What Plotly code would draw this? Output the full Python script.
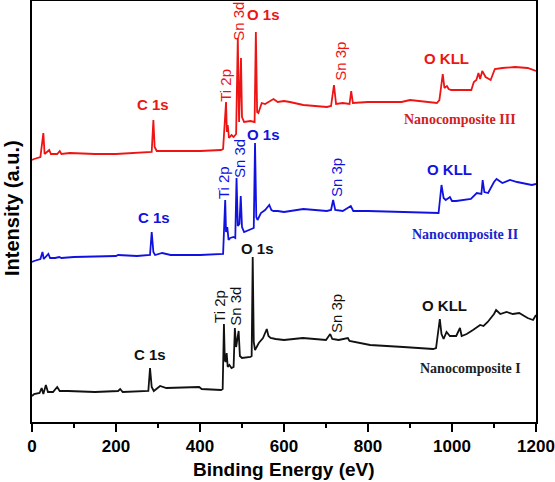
import plotly.graph_objects as go

# ---------------- data (binding energy in eV, intensity in arbitrary offset units) -------------
energy_I = [0, 5, 18, 23, 27, 33, 38, 50, 60, 66,
            86, 150, 205, 210, 216, 260, 277, 281, 285, 290,
            305, 320, 398, 404, 450, 454, 457, 459, 461, 463.5,
            466, 470, 475, 480, 483, 486, 492, 495, 500, 520,
            523, 525.5, 528, 531, 540, 550, 559, 563, 568, 580,
            600, 645, 700, 710, 715, 730, 752, 756, 805, 884,
            955, 962, 971, 975, 980, 987, 995, 1010, 1019, 1023,
            1035, 1050, 1067, 1075, 1085, 1100, 1105, 1115, 1130, 1145,
            1160, 1180, 1193, 1200]
intensity_I = [26, 28, 29, 34, 28, 37, 30, 30, 35, 31,
               31, 30, 31, 33, 30, 31, 31, 54, 35, 31,
               36, 34, 35, 33, 32, 33, 98, 62, 60, 69,
               55, 57, 54, 55, 94, 75, 91, 66, 64, 65,
               66, 165, 80, 72, 79, 84, 93, 86, 84, 83,
               82, 84, 82, 88, 83, 82, 84, 81, 77, 75,
               73, 74, 103, 88, 83, 90, 86, 86, 94, 86,
               88, 92, 97, 96, 100, 108, 112, 108, 110, 108,
               109, 104, 102, 107]

energy_II = [0, 5, 20, 25, 28, 39, 43, 55, 65, 70,
             100, 200, 205, 250, 281, 285, 289, 293, 310, 330,
             400, 450, 455, 460, 462, 465, 468, 472, 480, 484,
             487, 490, 494, 497, 500, 505, 520, 528, 531, 534,
             537, 545, 555, 565, 570, 575, 585, 600, 646, 702,
             712, 717, 722, 740, 759, 765, 800, 870, 955, 968,
             975, 980, 985, 995, 1000, 1010, 1045, 1059, 1070, 1073,
             1077, 1086, 1100, 1106, 1120, 1138, 1155, 1170, 1190, 1200]
intensity_II = [160, 161, 163, 170, 163, 168, 164, 164, 165, 164,
                165, 166, 167, 166, 167, 190, 170, 167, 169, 167,
                167, 168, 168, 222, 190, 195, 182, 184, 185, 184,
                244, 196, 198, 226, 195, 190, 193, 194, 279, 205,
                202, 209, 212, 217, 212, 211, 211, 210, 213, 211,
                212, 222, 212, 211, 216, 211, 211, 210, 209, 209,
                237, 224, 222, 225, 221, 221, 223, 229, 228, 242,
                230, 229, 240, 243, 239, 242, 240, 239, 237, 238]

energy_III = [0, 5, 20, 27, 30, 41, 45, 60, 66, 70,
              90, 150, 200, 250, 285, 289, 292, 297, 350, 400,
              450, 455, 462, 464, 466, 469, 475, 480, 486, 490,
              493, 497.6, 500, 505, 520, 530, 533, 536, 539, 547,
              555, 563, 570, 575, 585, 600, 614, 646, 702, 712,
              719, 724, 740, 756, 760, 764, 800, 880, 900, 964,
              970, 978, 982, 988, 992, 998, 1030, 1046, 1052, 1058,
              1063, 1067, 1072, 1080, 1092, 1102, 1120, 1150, 1180, 1200]
intensity_III = [262, 263, 265, 289, 268, 272, 268, 268, 271, 268,
                 269, 268, 268, 269, 270, 302, 275, 271, 271, 271,
                 272, 273, 320, 290, 297, 284, 287, 285, 288, 384,
                 300, 364, 305, 300, 301, 300, 390, 310, 309, 319,
                 318, 320, 321, 323, 320, 321, 320, 317, 315, 316,
                 337, 318, 319, 318, 331, 319, 320, 320, 322, 319,
                 322, 348, 334, 336, 333, 332, 332, 332, 340, 342,
                 349, 343, 351, 345, 342, 353, 354, 355, 354, 351]

series_names = ["Nanocomposite I", "Nanocomposite II", "Nanocomposite III"]
x_ticks = [0, 200, 400, 600, 800, 1000, 1200]

# peak labels: (text, energy, intensity, rotated?)
labels_I = [("C 1s", 281, 68, False), ("Ti 2p", 445, 116, True), ("Sn 3d", 483, 116, True),
            ("O 1s", 538, 174, False), ("Sn 3p", 724, 108, True), ("O KLL", 983, 117, False)]
labels_II = [("C 1s", 290, 205, False), ("Ti 2p", 455, 239, True), ("Sn 3d", 493, 263, True),
             ("O 1s", 550, 288, False), ("Sn 3p", 724, 244, True), ("O KLL", 993, 253, False)]
labels_III = [("C 1s", 288, 318, False), ("Ti 2p", 459, 337, True), ("Sn 3d", 490, 401, True),
              ("O 1s", 550, 408, False), ("Sn 3p", 733, 361, True), ("O KLL", 986, 364, False)]
name_pos = [(1045, 54), (1031, 188), (1019, 303)]

colors = ["#111111", "#1212e0", "#ee1414"]
name_colors = ["#222222", "#2222cc", "#d42020"]

fig = go.Figure()
for e, i, n, c in [(energy_I, intensity_I, series_names[0], colors[0]),
                   (energy_II, intensity_II, series_names[1], colors[1]),
                   (energy_III, intensity_III, series_names[2], colors[2])]:
    fig.add_trace(go.Scatter(x=e, y=i, mode="lines", name=n,
                             line=dict(color=c, width=1.8), showlegend=False))

annotations = []
for labs, c in [(labels_I, colors[0]), (labels_II, colors[1]), (labels_III, colors[2])]:
    for t, x, y, rot in labs:
        if rot:
            annotations.append(dict(x=x, y=y, text=t, showarrow=False, textangle=-90,
                                    font=dict(family="Liberation Sans, Arial", size=15, color=c)))
        else:
            annotations.append(dict(x=x, y=y, text=t, showarrow=False,
                                    font=dict(family="Liberation Sans, Arial", size=15, color=c,
                                              weight="bold")))
for (x, y), n, c in zip(name_pos, series_names, name_colors):
    annotations.append(dict(x=x, y=y, text=n, showarrow=False,
                            font=dict(family="Liberation Serif, Times New Roman", size=14,
                                      color=c, weight="bold")))

annotations.append(dict(xref="paper", yref="paper", x=-0.04, y=0.508, xanchor="center",
                        yanchor="middle", text="Intensity (a.u.)",
                        showarrow=False, textangle=-90,
                        font=dict(family="Liberation Sans, Arial", size=20, color="black",
                                  weight="bold")))
annotations.append(dict(xref="paper", yref="paper", x=0.5, y=-0.114, xanchor="center",
                        yanchor="middle", text="Binding Energy (eV)", showarrow=False,
                        font=dict(family="Liberation Sans, Arial", size=19, color="black",
                                  weight="bold")))

fig.update_layout(
    width=555, height=482,
    margin=dict(l=32, r=19, t=1, b=60, autoexpand=False),
    plot_bgcolor="white", paper_bgcolor="white",
    annotations=annotations,
    xaxis=dict(range=[0, 1200], tickvals=x_ticks, ticks="outside", ticklen=8, tickwidth=2,
               tickcolor="black", showline=True, linewidth=2, linecolor="black", mirror=True,
               showgrid=False, zeroline=False, automargin=False,
               tickfont=dict(family="Liberation Sans, Arial", size=17, color="black", weight="bold"),
               minor=dict(ticks="outside", ticklen=4, tickwidth=2, dtick=100, tick0=0,
                          tickcolor="black", showgrid=False)),
    yaxis=dict(range=[0, 421], showticklabels=False, ticks="", showline=True, linewidth=2,
               linecolor="black", mirror=True, showgrid=False, zeroline=False, automargin=False),
)

fig.write_html("out.html", config={"displayModeBar": False},
               post_script="document.body.style.margin='0';")
